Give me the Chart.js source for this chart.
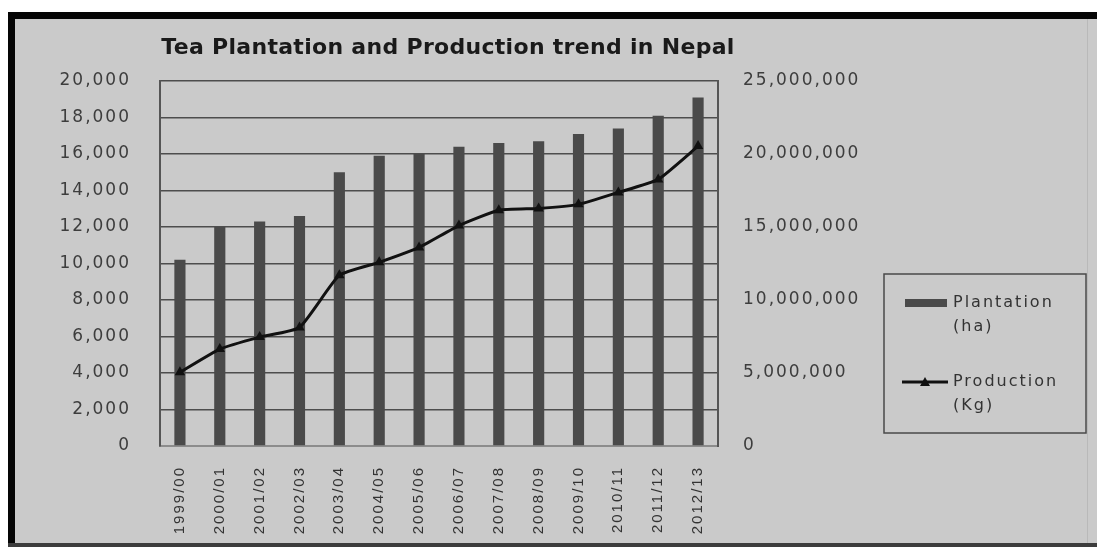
<!DOCTYPE html>
<html>
<head>
<meta charset="utf-8">
<script src="https://cdn.jsdelivr.net/npm/chart.js@4.4.1/dist/chart.umd.min.js"></script>
<style>
  html, body { margin: 0; padding: 0; background: #fff; }
  canvas { display: block; }
</style>
</head>
<body>
<canvas id="teaChart" width="1097" height="547"></canvas>
<script>
// Tea plantation area and production, Nepal
const fiscalYears = ['1999/00', '2000/01', '2001/02', '2002/03', '2003/04', '2004/05', '2005/06',
  '2006/07', '2007/08', '2008/09', '2009/10', '2010/11', '2011/12', '2012/13'];
const plantationHa = [10200, 12000, 12300, 12600, 15000, 15900, 16000,
  16400, 16600, 16700, 17100, 17400, 18100, 19100];
const productionKg = [5050000, 6640000, 7460000, 8120000, 11700000, 12580000, 13600000,
  15100000, 16150000, 16270000, 16550000, 17370000, 18260000, 20540000];
const areaAxis = { max: 20000, step: 2000 };
const outputAxis = { max: 25000000, step: 5000000 };
const chartTitle = 'Tea Plantation and Production trend in Nepal';

const SPACING = '2px';

// frame, title and the boxed legend on the right
const decorations = {
  id: 'decorations',
  beforeUpdate(chart) {
    chart.ctx.letterSpacing = SPACING;
  },
  beforeDraw(chart) {
    const ctx = chart.ctx;
    const w = chart.width, h = chart.height;
    ctx.save();
    ctx.fillStyle = '#ffffff';
    ctx.fillRect(0, 0, w, h);
    ctx.fillStyle = '#cacaca';
    ctx.fillRect(15, 19, w - 15, h - 19);
    ctx.fillStyle = '#050505';
    ctx.fillRect(8, 12, w - 8, 7);
    ctx.fillRect(8, 12, 7, h - 12);
    ctx.fillStyle = '#3c3c3c';
    ctx.fillRect(8, 543, w - 8, 4);
    ctx.fillStyle = '#b9b9b9';
    ctx.fillRect(1087, 19, 1, 524);
    ctx.restore();
    ctx.letterSpacing = SPACING;
  },
  afterDraw(chart) {
    const ctx = chart.ctx;
    ctx.save();
    ctx.letterSpacing = '0.3px';
    ctx.fillStyle = '#1a1a1a';
    ctx.font = 'bold 22px "DejaVu Sans"';
    ctx.textAlign = 'center';
    ctx.textBaseline = 'middle';
    ctx.fillText(chartTitle, 448, 48);

    // legend box
    ctx.letterSpacing = SPACING;
    ctx.strokeStyle = '#4a4a4a';
    ctx.lineWidth = 1.5;
    ctx.strokeRect(884, 274, 202, 159);

    const [bars, line] = chart.data.datasets;
    ctx.font = '16px "DejaVu Sans"';
    ctx.textAlign = 'left';
    ctx.fillStyle = '#333333';

    ctx.save();
    ctx.fillStyle = bars.backgroundColor;
    ctx.fillRect(905, 299, 42, 8);
    ctx.restore();
    const barLabel = bars.label.split(' ');
    ctx.fillText(barLabel[0], 953, 303);
    ctx.fillText(barLabel[1], 953, 327);

    ctx.strokeStyle = line.borderColor;
    ctx.lineWidth = 3;
    ctx.beginPath();
    ctx.moveTo(902, 382);
    ctx.lineTo(948, 382);
    ctx.stroke();
    ctx.fillStyle = line.borderColor;
    ctx.beginPath();
    ctx.moveTo(925, 377);
    ctx.lineTo(930, 386);
    ctx.lineTo(920, 386);
    ctx.closePath();
    ctx.fill();
    const lineLabel = line.label.split(' ');
    ctx.fillStyle = '#333333';
    ctx.fillText(lineLabel[0], 953, 382);
    ctx.fillText(lineLabel[1], 953, 406);
    ctx.restore();
  }
};

const fmt = v => Number(v).toLocaleString('en-US');

const ctx = document.getElementById('teaChart').getContext('2d');
const teaChart = new Chart(ctx, {
  data: {
    labels: fiscalYears,
    datasets: [{
      type: 'bar',
      label: 'Plantation (ha)',
      data: plantationHa,
      yAxisID: 'y',
      backgroundColor: '#4a4a4a',
      barPercentage: 0.28,
      categoryPercentage: 1,
      order: 2
    }, {
      type: 'line',
      label: 'Production (Kg)',
      data: productionKg,
      yAxisID: 'y1',
      borderColor: '#111111',
      backgroundColor: '#111111',
      borderWidth: 3,
      tension: 0.15,
      pointStyle: 'triangle',
      pointRadius: 3,
      order: 1
    }]
  },
  options: {
    responsive: false,
    devicePixelRatio: 1,
    animation: false,
    layout: { padding: { left: 16, right: 10, top: 81, bottom: 0 } },
    plugins: {
      legend: { display: false },
      title: { display: false },
      tooltip: { enabled: false }
    },
    scales: {
      x: {
        grid: { display: false },
        border: { display: true, color: '#8c8c8c', width: 2 },
        ticks: {
          autoSkip: false,
          maxRotation: 90,
          minRotation: 90,
          padding: 12,
          color: '#333333',
          font: { family: 'Liberation Sans', size: 15 }
        },
        afterFit(scale) { scale.height = 101; }
      },
      y: {
        position: 'left',
        min: 0,
        max: areaAxis.max,
        grid: {
          drawTicks: false,
          color: c => c.tick && c.tick.value === 0 ? '#8c8c8c' : '#4d4d4d',
          lineWidth: 1.5
        },
        border: { display: true, color: '#555555', width: 2 },
        ticks: {
          stepSize: areaAxis.step,
          padding: 29,
          color: '#3d3d3d',
          font: { family: 'DejaVu Sans', size: 17 },
          callback: fmt
        },
        afterFit(scale) { scale.width = 144; }
      },
      y1: {
        position: 'right',
        min: 0,
        max: outputAxis.max,
        grid: { display: false, drawTicks: false },
        border: { display: true, color: '#555555', width: 2 },
        ticks: {
          stepSize: outputAxis.step,
          padding: 25,
          color: '#3d3d3d',
          font: { family: 'DejaVu Sans', size: 17 },
          callback: fmt
        },
        afterFit(scale) { scale.width = 369; }
      }
    }
  },
  plugins: [decorations]
});
</script>
</body>
</html>
